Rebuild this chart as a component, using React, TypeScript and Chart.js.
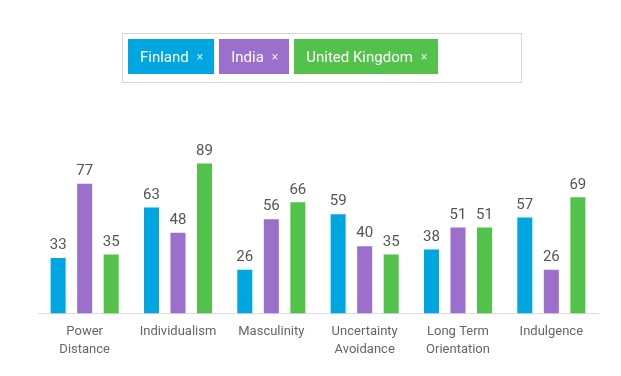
import React, { useEffect, useRef } from "react";
import { Chart, registerables } from "chart.js";

Chart.register(...registerables);

const categories: string[][] = [
  ["Power", "Distance"],
  ["Individualism"],
  ["Masculinity"],
  ["Uncertainty", "Avoidance"],
  ["Long Term", "Orientation"],
  ["Indulgence"],
];
const seriesNames = ["Finland", "India", "United Kingdom"];
const seriesColors = ["#00a6df", "#9b6fcc", "#53c24a"];
const finland = [33, 63, 26, 59, 38, 57];
const india = [77, 48, 56, 40, 51, 26];
const unitedKingdom = [35, 89, 66, 35, 51, 69];

const FONT = "Roboto, 'DejaVu Sans', sans-serif";

const valueLabels = {
  id: "valueLabels",
  afterDatasetsDraw(chart: any) {
    const ctx = chart.ctx;
    ctx.save();
    ctx.font = `15px ${FONT}`;
    ctx.fillStyle = "#555";
    ctx.textAlign = "center";
    ctx.textBaseline = "bottom";
    chart.data.datasets.forEach((ds: any, i: number) => {
      const meta = chart.getDatasetMeta(i);
      meta.data.forEach((el: any, j: number) => {
        ctx.fillText(String(ds.data[j]), el.x, el.y - 5);
      });
    });
    ctx.restore();
  },
};

export default function App() {
  const ref = useRef<HTMLCanvasElement>(null);
  useEffect(() => {
    if (!ref.current) return;
    const values = [finland, india, unitedKingdom];
    const chart = new Chart(ref.current, {
      type: "bar",
      data: {
        labels: categories,
        datasets: values.map((d, i) => ({
          label: seriesNames[i],
          data: d,
          backgroundColor: seriesColors[i],
          categoryPercentage: 0.853,
          barPercentage: 0.566,
        })),
      },
      options: {
        animation: false,
        responsive: false,
        maintainAspectRatio: false,
        layout: { padding: { left: 38, right: 23, top: 145, bottom: 16 } },
        plugins: { legend: { display: false }, tooltip: { enabled: false } },
        scales: {
          x: {
            grid: { display: false },
            border: { color: "#dddddd", width: 1 },
            ticks: {
              color: "#666",
              font: { family: FONT, size: 13, lineHeight: 1.4 },
              padding: 1,
              maxRotation: 0,
              autoSkip: false,
            },
          },
          y: { display: false, min: 0, max: 100 },
        },
      },
      plugins: [valueLabels],
    });
    return () => chart.destroy();
  }, []);

  return (
    <div style={{ position: "fixed", left: 0, top: 0, width: 621, height: 376, background: "#fff", fontFamily: FONT }}>
      <canvas ref={ref} width={621} height={376} style={{ position: "absolute", left: 0, top: 0 }} />
      <div
        style={{
          position: "absolute",
          left: 122,
          top: 33,
          width: 398,
          height: 48,
          border: "1px solid #d6d6d6",
          display: "flex",
          alignItems: "flex-start",
          boxSizing: "content-box",
        }}
      >
        {seriesNames.map((n, i) => (
          <div
            key={n}
            style={{
              marginLeft: 5,
              marginTop: 5,
              height: 35,
              background: seriesColors[i],
              color: "#fff",
              display: "flex",
              alignItems: "center",
              padding: "0 11px 0 12px",
              fontSize: 15,
              whiteSpace: "nowrap",
            }}
          >
            <span>{n}</span>
            <span style={{ fontSize: 12, marginLeft: 8, opacity: 0.8 }}>×</span>
          </div>
        ))}
      </div>
    </div>
  );
}
